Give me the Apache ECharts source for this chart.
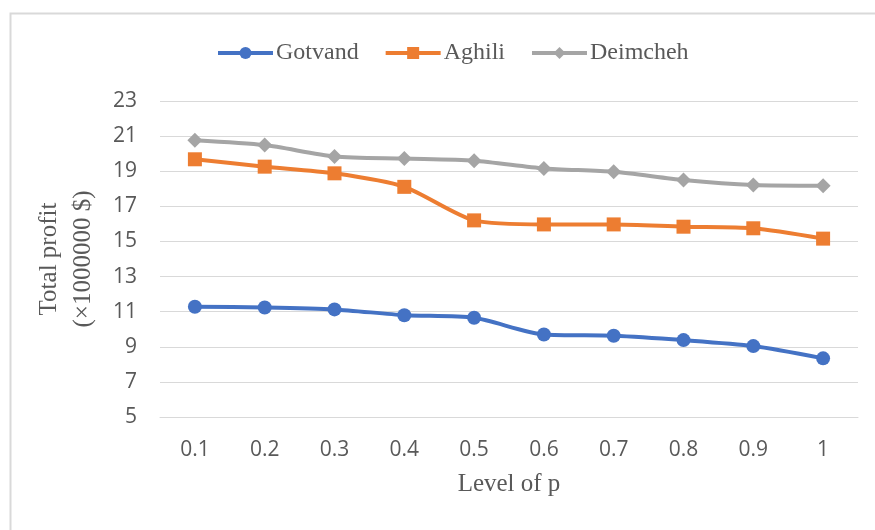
<!DOCTYPE html>
<html>
<head>
<meta charset="utf-8">
<script src="https://cdn.jsdelivr.net/npm/echarts@6/dist/echarts.min.js"></script>
<style>
  html, body { margin: 0; padding: 0; background: #fff; }
  #chart { width: 875px; height: 530px; }
</style>
</head>
<body>
<div id="chart"></div>
<script>
// 数据
const levels = ['0.1', '0.2', '0.3', '0.4', '0.5', '0.6', '0.7', '0.8', '0.9', '1']
const gotvand = [11.28, 11.24, 11.13, 10.8, 10.65, 9.7, 9.63, 9.38, 9.04, 8.34]
const aghili = [19.68, 19.26, 18.88, 18.11, 16.2, 15.97, 15.97, 15.84, 15.75, 15.16]
const deimcheh = [20.77, 20.49, 19.84, 19.72, 19.6, 19.16, 18.97, 18.5, 18.21, 18.17]

const chart = echarts.init(document.getElementById('chart'))

const serif = '"Liberation Serif", "DejaVu Serif", serif'
const sans = '"Open Sans", "Liberation Sans", sans-serif'
const textGray = '#595959'

function lineSeries (name, data, color, symbol, size) {
  return {
    name: name,
    type: 'line',
    data: data,
    smooth: 0.25,
    symbol: symbol,
    symbolSize: size,
    lineStyle: { color: color, width: 4 },
    itemStyle: { color: color },
    z: 3
  }
}

chart.setOption({
  animation: false,
  graphic: [
    {
      type: 'rect',
      shape: { x: 10.5, y: 13.5, width: 900, height: 600 },
      style: { fill: 'none', stroke: '#d9d9d9', lineWidth: 2 },
      silent: true
    }
  ],
  legend: {
    top: 36,
    left: 211,
    itemWidth: 55,
    itemHeight: 15,
    itemGap: 25,
    lineStyle: { width: 4 },
    textStyle: { fontFamily: serif, fontSize: 24, color: textGray, padding: [0, 0, 0, -2] },
    data: ['Gotvand', 'Aghili', 'Deimcheh']
  },
  grid: {
    left: 160,
    right: 17,
    top: 101,
    bottom: 113
  },
  xAxis: {
    type: 'category',
    data: levels,
    boundaryGap: true,
    name: 'Level of p',
    nameLocation: 'middle',
    nameGap: 55,
    nameTextStyle: { fontFamily: serif, fontSize: 25, color: textGray },
    axisLine: { show: true, lineStyle: { color: '#d9d9d9', width: 1 } },
    axisTick: { show: false },
    axisLabel: {
      margin: 23,
      fontFamily: sans,
      fontSize: 21,
      color: textGray
    }
  },
  yAxis: {
    type: 'value',
    min: 5,
    max: 23,
    interval: 2,
    name: 'Total profit\n(×1000000 $)',
    nameLocation: 'middle',
    nameGap: 60,
    nameTextStyle: { fontFamily: serif, fontSize: 25, color: textGray, lineHeight: 34 },
    axisLine: { show: false },
    axisTick: { show: false },
    axisLabel: {
      margin: 23,
      fontFamily: sans,
      fontSize: 21,
      color: textGray
    },
    splitLine: { lineStyle: { color: '#d9d9d9', width: 1 } }
  },
  series: [
    lineSeries('Gotvand', gotvand, '#4472C4', 'circle', 14),
    lineSeries('Aghili', aghili, '#ED7D31', 'rect', 14),
    lineSeries('Deimcheh', deimcheh, '#A5A5A5', 'diamond', 15)
  ]
})
</script>
</body>
</html>
